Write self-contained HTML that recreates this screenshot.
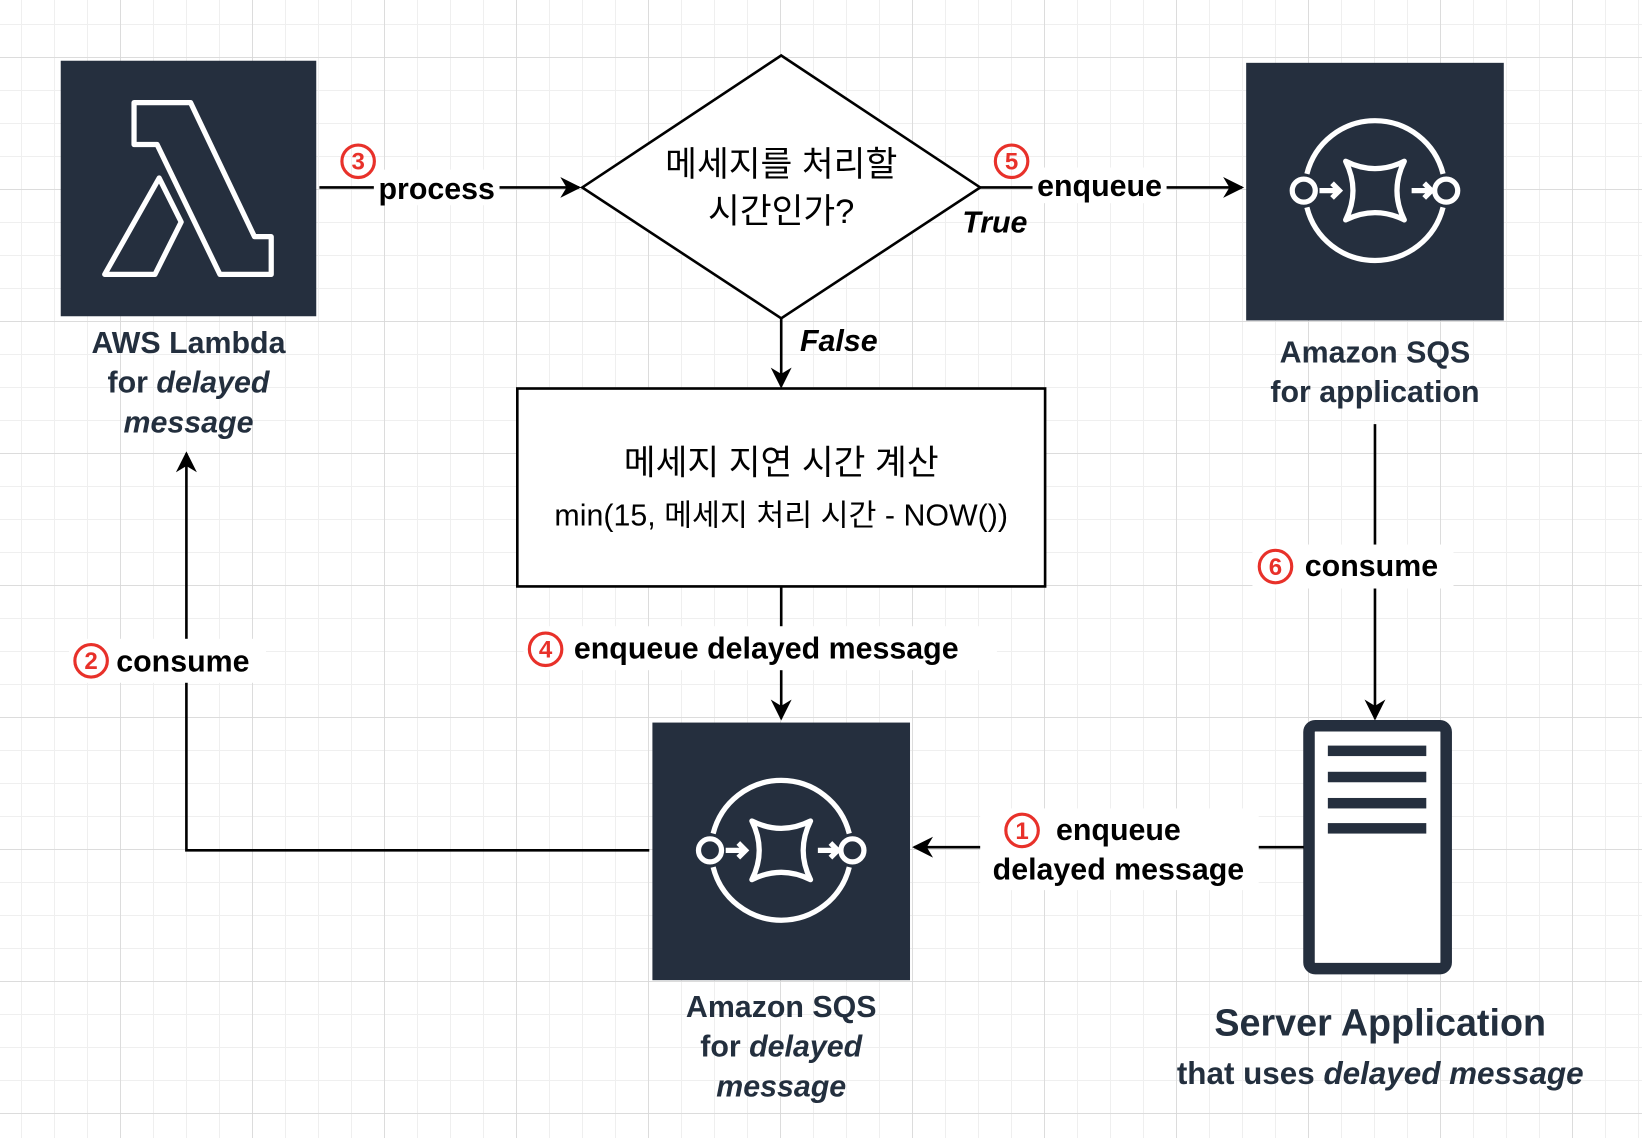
<!DOCTYPE html>
<html><head><meta charset="utf-8"><style>
html,body{margin:0;padding:0;background:#fff;}
svg{display:block;}
text{font-family:"Liberation Sans","Noto Sans CJK KR",sans-serif;}
</style></head><body>
<svg width="1642" height="1138" viewBox="0 0 1642 1138" xmlns="http://www.w3.org/2000/svg">
<defs>
<pattern id="minor" x="21" y="24" width="33" height="33" patternUnits="userSpaceOnUse">
<path d="M0,0 V33 M0,0 H33" stroke="#efefef" stroke-width="2" fill="none"/>
</pattern>
<pattern id="major" x="120" y="57" width="132" height="132" patternUnits="userSpaceOnUse">
<path d="M0,0 V132 M0,0 H132" stroke="#d6d6d6" stroke-width="1.5" fill="none"/>
</pattern>
<marker id="ah" viewBox="0 0 20 20" refX="18" refY="10" markerWidth="20" markerHeight="20" markerUnits="userSpaceOnUse" orient="auto">
<path d="M0,0 L20,10 L0,20 L6,10 Z" fill="#000"/>
</marker>
<g id="sqs">
<rect x="0" y="0" width="246" height="246" fill="#252f3e"/>
<g fill="none" stroke="#fff" stroke-width="5">
<path d="M58,106 A67,67 0 0 1 188,106"/>
<path d="M58,138 A67,67 0 0 0 188,138"/>
<circle cx="55" cy="122" r="11"/>
<circle cx="191" cy="122" r="11"/>
<path d="M70,122 H88 M82,115 L89,122 L82,129"/>
<path d="M158,122 H176 M170,115 L177,122 L170,129"/>
<path d="M95,94 Q123,108 151,94 Q137,122 151,150 Q123,136 95,150 Q109,122 95,94 Z" stroke-linejoin="round"/>
</g>
</g>
</defs>
<rect width="1642" height="1138" fill="url(#minor)"/>
<rect width="1642" height="1138" fill="url(#major)"/>

<g transform="scale(1.0472)">
<rect x="58" y="58" width="244" height="244" fill="#252f3e"/>
<g fill="none" stroke="#fff" stroke-width="5" stroke-linejoin="round">
<path d="M128,98 H182 L243,226 H259 V262 H210 L150,138 H128 Z"/>
<path d="M152,170 L100,262 H148 L173,212 Z"/>
</g>
<text x="180" y="337" text-anchor="middle" font-size="29" font-weight="bold" fill="#232f3e">AWS Lambda</text>
<text x="180" y="375" text-anchor="middle" font-size="29" font-weight="bold" fill="#232f3e">for <tspan font-style="italic">delayed</tspan></text>
<text x="180" y="413" text-anchor="middle" font-size="29" font-weight="bold" font-style="italic" fill="#232f3e">message</text>

<use href="#sqs" x="1190" y="60"/>
<text x="1313" y="346" text-anchor="middle" font-size="29" font-weight="bold" fill="#232f3e">Amazon SQS</text>
<text x="1313" y="384" text-anchor="middle" font-size="29" font-weight="bold" fill="#232f3e">for application</text>

<use href="#sqs" x="623" y="690"/>
<text x="746" y="971" text-anchor="middle" font-size="29" font-weight="bold" fill="#232f3e">Amazon SQS</text>
<text x="746" y="1009" text-anchor="middle" font-size="29" font-weight="bold" fill="#232f3e">for <tspan font-style="italic">delayed</tspan></text>
<text x="746" y="1047" text-anchor="middle" font-size="29" font-weight="bold" font-style="italic" fill="#232f3e">message</text>

<rect x="1250" y="693" width="131" height="232" rx="6" fill="#fff" stroke="#252f3e" stroke-width="11"/>
<g fill="#252f3e">
<rect x="1268" y="712" width="94" height="10"/>
<rect x="1268" y="737" width="94" height="10"/>
<rect x="1268" y="762" width="94" height="10"/>
<rect x="1268" y="786" width="94" height="10"/>
</g>
<text x="1318" y="989" text-anchor="middle" font-size="36" font-weight="bold" fill="#232f3e">Server Application</text>
<text x="1318" y="1035" text-anchor="middle" font-size="30" font-weight="bold" fill="#232f3e">that uses <tspan font-style="italic">delayed message</tspan></text>

<path d="M746,53 L936,179 L746,304 L556,179 Z" fill="#fff" stroke="#000" stroke-width="2.5"/>
<text x="746" y="168" text-anchor="middle" font-size="33" fill="#000">메세지를 처리할</text>
<text x="746" y="213" text-anchor="middle" font-size="33" fill="#000">시간인가?</text>

<rect x="494" y="371" width="504" height="189" fill="#fff" stroke="#000" stroke-width="2.5"/>
<text x="746" y="453" text-anchor="middle" font-size="33" fill="#000">메세지 지연 시간 계산</text>
<text x="746" y="502" text-anchor="middle" font-size="29" fill="#000">min(15, 메세지 처리 시간 - NOW())</text>

<g stroke="#000" stroke-width="2.5" fill="none">
<path d="M305,179 H553" marker-end="url(#ah)"/>
<path d="M936,179 H1186" marker-end="url(#ah)"/>
<path d="M746,304 V369" marker-end="url(#ah)"/>
<path d="M746,560 V686" marker-end="url(#ah)"/>
<path d="M620,812 H178 V433" marker-end="url(#ah)"/>
<path d="M1245,809 H873" marker-end="url(#ah)"/>
<path d="M1313,405 V686" marker-end="url(#ah)"/>
</g>

<g font-weight="bold" font-size="29" fill="#000">
<rect x="357" y="162" width="120" height="34" fill="#fff"/>
<text x="417" y="190" text-anchor="middle">process</text>
<rect x="986" y="160" width="128" height="34" fill="#fff"/>
<text x="1050" y="187" text-anchor="middle">enqueue</text>
<text x="950" y="222" text-anchor="middle" font-style="italic">True</text>
<text x="801" y="335" text-anchor="middle" font-style="italic">False</text>
<rect x="500" y="598" width="452" height="42" fill="#fff"/>
<text x="548" y="629">enqueue delayed message</text>
<rect x="66" y="610" width="188" height="42" fill="#fff"/>
<text x="111" y="641">consume</text>
<rect x="936" y="772" width="266" height="78" fill="#fff"/>
<text x="1068" y="802" text-anchor="middle">enqueue</text>
<text x="1068" y="840" text-anchor="middle">delayed message</text>
<rect x="1196" y="520" width="192" height="42" fill="#fff"/>
<text x="1246" y="550">consume</text>
</g>
<g fill="none" stroke="#e8312a" stroke-width="3">
<circle cx="342" cy="154" r="15.5"/>
<circle cx="966" cy="154" r="15.5"/>
<circle cx="521" cy="620" r="15.5"/>
<circle cx="87" cy="631" r="15.5"/>
<circle cx="976" cy="793" r="15.5"/>
<circle cx="1218" cy="541" r="15.5"/>
</g>
<g fill="#e8312a" font-size="23" font-weight="bold" text-anchor="middle">
<text x="342" y="162">3</text>
<text x="966" y="162">5</text>
<text x="521" y="628">4</text>
<text x="87" y="639">2</text>
<text x="976" y="801">1</text>
<text x="1218" y="549">6</text>
</g>
</g>
</svg>
</body></html>
